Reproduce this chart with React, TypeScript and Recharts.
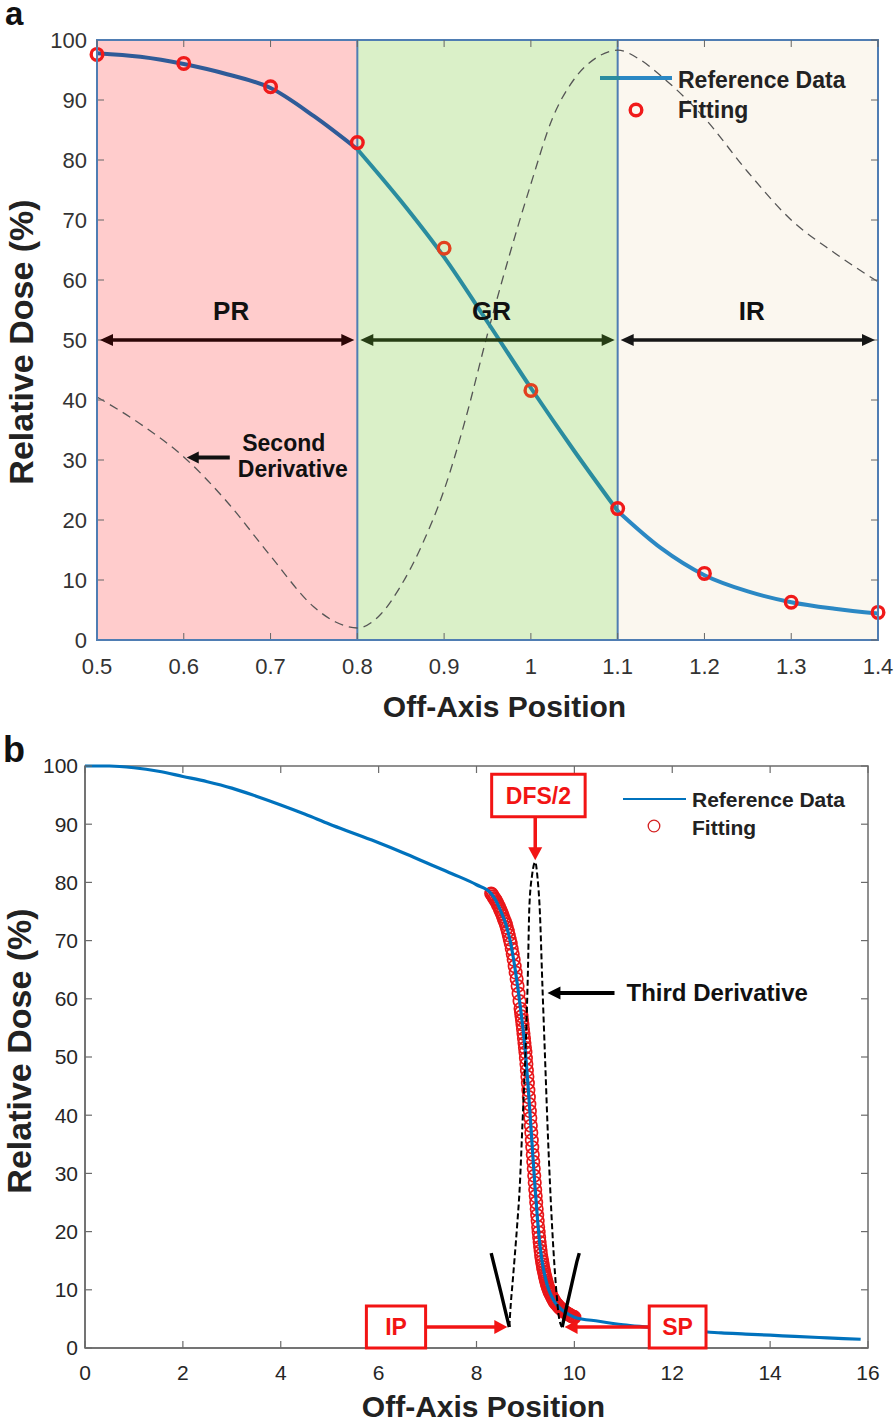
import React from 'react';
import {
  ComposedChart,
  Line,
  Scatter,
  XAxis,
  YAxis,
  ReferenceArea,
  ReferenceLine,
  Legend,
} from 'recharts';

const FONT = '"Liberation Sans", Arial, Helvetica, sans-serif';

// ---------------- Panel a data ----------------
const aXTicks = [0.5, 0.6, 0.7, 0.8, 0.9, 1.0, 1.1, 1.2, 1.3, 1.4];
const aYTicks = [0, 10, 20, 30, 40, 50, 60, 70, 80, 90, 100];
const aRegionEdges = [0.5, 0.8, 1.1, 1.4];
const aRegionNames = ['PR', 'GR', 'IR'];
const aRegionFills = ['#ffcccc', '#daf0c8', '#fbf7ef'];
const aRegionLineColors = ['#2f5b98', '#2a8c9f', '#2b88c4'];
const aRegionArrowColors = ['#2b0606', '#263d14', '#161616'];

const aRefX = [0.5, 0.55, 0.6, 0.65, 0.7, 0.75, 0.8, 0.85, 0.9, 0.95, 1.0, 1.05, 1.1, 1.15, 1.2, 1.25, 1.3, 1.35, 1.4];
const aRefY = [97.8, 97.2, 96.0, 94.3, 92.0, 87.3, 81.8, 73.2, 63.8, 53.0, 42.0, 31.5, 21.5, 15.3, 10.8, 8.1, 6.3, 5.2, 4.4];

const aFitX = [0.5, 0.6, 0.7, 0.8, 0.9, 1.0, 1.1, 1.2, 1.3, 1.4];
const aFitY = [97.6, 96.1, 92.2, 82.9, 65.3, 41.6, 21.9, 11.1, 6.3, 4.6];

const aSecondX = [0.5, 0.55, 0.6, 0.65, 0.7, 0.75, 0.775, 0.8, 0.825, 0.85, 0.875, 0.9, 0.925, 0.95, 0.975, 1.0, 1.025, 1.05, 1.075, 1.1, 1.125, 1.15, 1.2, 1.25, 1.3, 1.35, 1.4];
const aSecondY = [40.5, 36.0, 30.5, 23.0, 14.0, 5.5, 3.0, 2.0, 4.0, 9.0, 16.0, 25.0, 37.0, 51.0, 64.0, 76.0, 87.0, 93.5, 97.0, 98.3, 96.8, 94.0, 87.0, 78.0, 70.0, 64.5, 59.7];

// annotation anchors (data units)
const aArrowY = 50;
const aSecondArrow = [{ x: 0.653, y: 30.4 }, { x: 0.6034, y: 30.4 }];

// ---------------- Panel b data ----------------
const bXTicks = [0, 2, 4, 6, 8, 10, 12, 14, 16];
const bYTicks = [0, 10, 20, 30, 40, 50, 60, 70, 80, 90, 100];

const bRefX = [0, 0.5, 1, 1.5, 2, 2.5, 3, 3.5, 4, 4.5, 5, 5.5, 6, 6.5, 7, 7.5, 8, 8.3, 8.4, 8.5, 8.6, 8.7, 8.8, 8.9, 9.0, 9.05, 9.1, 9.15, 9.2, 9.25, 9.3, 9.35, 9.4, 9.45, 9.5, 9.6, 9.7, 9.8, 9.9, 10, 10.5, 11, 11.5, 12, 12.5, 13, 13.5, 14, 14.5, 15, 15.5, 15.85];
const bRefY = [100, 100, 99.7, 99.1, 98.2, 97.3, 96.2, 94.8, 93.3, 91.7, 90.0, 88.4, 86.8, 85.1, 83.3, 81.5, 79.6, 78.1, 76.8, 75.0, 72.8, 69.5, 64.5, 58.3, 50.8, 45.5, 39.5, 33.2, 27.2, 21.8, 17.4, 14.4, 12.3, 10.7, 9.5, 7.9, 6.9, 6.2, 5.7, 5.3, 4.6, 4.0, 3.6, 3.2, 2.9, 2.6, 2.4, 2.2, 2.0, 1.8, 1.6, 1.5];

const bFitX = [
  8.30, 8.32, 8.34, 8.36, 8.38, 8.40, 8.42, 8.44, 8.46, 8.48, 8.50, 8.52, 8.54, 8.56, 8.58, 8.60, 8.62, 8.64, 8.66, 8.68,
  8.70, 8.72, 8.74, 8.76, 8.78, 8.80, 8.82, 8.84, 8.86, 8.88,
  8.90, 8.91, 8.92, 8.93, 8.94, 8.95, 8.96, 8.97, 8.98, 8.99, 9.00, 9.01, 9.02, 9.03, 9.04, 9.05, 9.06, 9.07, 9.08, 9.09,
  9.10, 9.11, 9.12, 9.13, 9.14, 9.15, 9.16, 9.17, 9.18, 9.19, 9.20, 9.21, 9.22, 9.23, 9.24, 9.25, 9.26, 9.27, 9.28, 9.29,
  9.30, 9.31, 9.32, 9.33, 9.34, 9.35, 9.36, 9.37, 9.38, 9.39, 9.40, 9.41, 9.42, 9.43, 9.44, 9.45, 9.46, 9.47, 9.48, 9.49,
  9.50, 9.52, 9.54, 9.56, 9.58, 9.60, 9.62, 9.64, 9.66, 9.68, 9.70, 9.72, 9.74, 9.76, 9.78, 9.80, 9.82, 9.84, 9.86, 9.88,
  9.90, 9.92, 9.94, 9.96, 9.98, 10.00,
];
const bFitY = [
  78.1, 77.9, 77.6, 77.3, 77.1, 76.8, 76.5, 76.1, 75.8, 75.4, 75.0, 74.6, 74.2, 73.7, 73.3, 72.8, 72.2, 71.6, 70.9, 70.2,
  69.5, 68.6, 67.7, 66.7, 65.6, 64.5, 63.4, 62.2, 60.9, 59.6,
  58.3, 57.7, 57.0, 56.3, 55.6, 54.8, 54.0, 53.2, 52.4, 51.6, 50.8, 49.8, 48.8, 47.7, 46.6, 45.5, 44.3, 43.1, 41.9, 40.7,
  39.5, 38.2, 37.0, 35.7, 34.5, 33.2, 32.0, 30.8, 29.6, 28.4, 27.2, 26.1, 25.0, 23.9, 22.8, 21.8, 20.8, 19.9, 19.0, 18.2,
  17.4, 16.7, 16.0, 15.4, 14.9, 14.4, 13.9, 13.5, 13.1, 12.7, 12.3, 12.0, 11.6, 11.3, 11.0, 10.7, 10.5, 10.2, 10.0, 9.7,
  9.5, 9.2, 8.8, 8.5, 8.2, 7.9, 7.7, 7.5, 7.3, 7.1, 6.9, 6.8, 6.6, 6.5, 6.3, 6.2, 6.1, 6.0, 5.9, 5.8,
  5.7, 5.6, 5.5, 5.4, 5.35, 5.3,
];

const bThirdLeftX = [8.3, 8.4, 8.5, 8.6, 8.67];
const bThirdLeftY = [16.3, 12.9, 9.5, 6.0, 3.6];
const bThirdDashX = [8.67, 8.7, 8.74, 8.78, 8.83, 8.88, 8.94, 9.01, 9.05, 9.08, 9.14, 9.2, 9.25, 9.29, 9.35, 9.4, 9.45, 9.5, 9.56, 9.62, 9.69, 9.75];
const bThirdDashY = [3.6, 7.5, 11.5, 15.6, 21.0, 27.1, 38.7, 52.9, 64.4, 75.8, 81.5, 83.5, 80.5, 75.8, 61.5, 50.0, 38.5, 28.5, 18.6, 11.0, 5.0, 3.6];
const bThirdRightX = [9.75, 9.85, 9.95, 10.05, 10.1];
const bThirdRightY = [3.6, 7.4, 11.1, 14.8, 16.3];

// annotation anchors (data units)
const bBoxIP = { x1: 5.75, x2: 6.96, y1: 0, y2: 7.2 };
const bBoxSP = { x1: 11.53, x2: 12.69, y1: 0, y2: 7.2 };
const bBoxDFS = { x1: 8.31, x2: 10.22, y1: 91.3, y2: 98.6 };
const bArrowIP = [{ x: 6.96, y: 3.6 }, { x: 8.63, y: 3.6 }];
const bArrowSP = [{ x: 11.53, y: 3.6 }, { x: 9.8, y: 3.6 }];
const bArrowDFS = [{ x: 9.2, y: 91.3 }, { x: 9.2, y: 83.8 }];
const bArrowThird = [{ x: 10.82, y: 61 }, { x: 9.45, y: 61 }];

const pts = (xs: number[], ys: number[]) => xs.map((x, i) => ({ x, y: ys[i] }));

type Geo = { x1: number; y1: number; x2: number; y2: number };
type ArrowOpts = {
  color: string;
  width: number;
  head: number;
  half: number;
  both?: boolean;
  inset?: number;
  extra?: (g: Geo) => React.ReactNode;
};

const makeArrow = (o: ArrowOpts) => (p: any) => {
  const x1 = Number(p.x1), y1 = Number(p.y1), x2 = Number(p.x2), y2 = Number(p.y2);
  if (![x1, y1, x2, y2].every(Number.isFinite)) return <g />;
  const dx = x2 - x1, dy = y2 - y1;
  const len = Math.hypot(dx, dy) || 1;
  const ux = dx / len, uy = dy / len;
  const ins = o.inset ?? 0;
  const sx = x1 + ux * ins, sy = y1 + uy * ins, ex = x2 - ux * ins, ey = y2 - uy * ins;
  const tri = (tx: number, ty: number, ddx: number, ddy: number) => {
    const bx = tx - ddx * o.head, by = ty - ddy * o.head;
    const nx = -ddy, ny = ddx;
    return `${tx},${ty} ${bx + nx * o.half},${by + ny * o.half} ${bx - nx * o.half},${by - ny * o.half}`;
  };
  const ls = o.both ? o.head * 0.7 : 0;
  return (
    <g>
      <line
        x1={sx + ux * ls}
        y1={sy + uy * ls}
        x2={ex - ux * o.head * 0.7}
        y2={ey - uy * o.head * 0.7}
        stroke={o.color}
        strokeWidth={o.width}
      />
      <polygon points={tri(ex, ey, ux, uy)} fill={o.color} />
      {o.both && <polygon points={tri(sx, sy, -ux, -uy)} fill={o.color} />}
      {o.extra && o.extra({ x1, y1, x2, y2 })}
    </g>
  );
};

// inward tick marks for the top and right edges of the box
const topTick = (len: number, color: string, w: number) => (p: any) => {
  const x = Number(p.x1);
  const yTop = Math.min(Number(p.y1), Number(p.y2));
  if (!Number.isFinite(x) || !Number.isFinite(yTop)) return <g />;
  return <line x1={x} x2={x} y1={yTop} y2={yTop + len} stroke={color} strokeWidth={w} />;
};
const rightTick = (len: number, color: string, w: number) => (p: any) => {
  const y = Number(p.y1);
  const xR = Math.max(Number(p.x1), Number(p.x2));
  if (!Number.isFinite(y) || !Number.isFinite(xR)) return <g />;
  return <line x1={xR - len} x2={xR} y1={y} y2={y} stroke={color} strokeWidth={w} />;
};

// ---------------- Panel a ----------------
const A_AXIS = '#4f7db3';
const A_TICK = '#666';

const fitCircleA = (p: any) => {
  const x = p.payload?.x ?? 0;
  const inGR = x > 0.85 && x < 1.05;
  return <circle cx={p.cx} cy={p.cy} r={5.8} fill="none" stroke={inGR ? '#e2401f' : '#f01a1a'} strokeWidth={3.4} />;
};

const LegendA = () => (
  <svg width={290} height={72} style={{ overflow: 'visible', display: 'block' }}>
    <line x1={5} y1={18} x2={25} y2={18} stroke="#2a8c9f" strokeWidth={4} />
    <line x1={25} y1={18} x2={77} y2={18} stroke="#2b88c4" strokeWidth={4} />
    <text x={83} y={28} fontSize={23} fontWeight="bold" fontFamily={FONT} fill="#222">Reference Data</text>
    <circle cx={41} cy={50} r={5.8} fill="none" stroke="#f01a1a" strokeWidth={3.4} />
    <text x={83} y={58} fontSize={23} fontWeight="bold" fontFamily={FONT} fill="#222">Fitting</text>
  </svg>
);

function PanelA() {
  const ref = pts(aRefX, aRefY);
  const fit = pts(aFitX, aFitY);
  const sec = pts(aSecondX, aSecondY);
  const segs = aRegionNames.map((_, i) =>
    ref.filter((p) => p.x >= aRegionEdges[i] - 1e-9 && p.x <= aRegionEdges[i + 1] + 1e-9)
  );
  const fmt = (v: number) => {
    const s = Number(v).toFixed(1);
    return s === '1.0' ? '1' : s;
  };
  return (
    <ComposedChart width={896} height={730} margin={{ top: 40, right: 18, bottom: 0, left: 0 }}>
      <XAxis
        type="number"
        dataKey="x"
        domain={[0.5, 1.4]}
        ticks={aXTicks}
        interval={0}
        height={90}
        tickFormatter={fmt}
        tickSize={-7}
        tickMargin={25}
        fontSize={22}
        axisLine={{ stroke: A_AXIS, strokeWidth: 2 }}
        tickLine={{ stroke: A_TICK, strokeWidth: 1 }}
        tick={{ fill: '#333', fontSize: 22, fontFamily: FONT }}
        label={{
          content: (p: any) => {
            const vb = p.viewBox || { x: 97, y: 640, width: 781 };
            return (
              <text x={vb.x + vb.width / 2 + 17} y={vb.y + 77} textAnchor="middle" fontSize={30} fontWeight="bold" fontFamily={FONT} fill="#222">
                Off-Axis Position
              </text>
            );
          },
        }}
      />
      <YAxis
        type="number"
        dataKey="y"
        domain={[0, 100]}
        ticks={aYTicks}
        interval={0}
        width={97}
        tickSize={-7}
        tickMargin={17}
        fontSize={22}
        axisLine={{ stroke: A_AXIS, strokeWidth: 2 }}
        tickLine={{ stroke: A_TICK, strokeWidth: 1 }}
        tick={{ fill: '#333', fontSize: 22, fontFamily: FONT }}
        label={{
          content: (p: any) => {
            const vb = p.viewBox || { x: 0, y: 40 };
            const cx = vb.x + 33;
            const cy = vb.y + 302;
            return (
              <text x={cx} y={cy} transform={`rotate(-90, ${cx}, ${cy})`} textAnchor="middle" fontSize={34} fontWeight="bold" fontFamily={FONT} fill="#222">
                Relative Dose (%)
              </text>
            );
          },
        }}
      />

      {aRegionNames.map((name, i) => (
        <ReferenceArea
          key={'area' + name}
          x1={aRegionEdges[i]}
          x2={aRegionEdges[i + 1]}
          y1={0}
          y2={100}
          fill={aRegionFills[i]}
          fillOpacity={1}
          stroke="none"
          zIndex={-20}
        />
      ))}
      <ReferenceLine x={aRegionEdges[1]} stroke={A_AXIS} strokeWidth={2} zIndex={-10} />
      <ReferenceLine x={aRegionEdges[2]} stroke={A_AXIS} strokeWidth={2} zIndex={-10} />

      <Line
        data={sec}
        dataKey="y"
        type="monotone"
        stroke="#555"
        strokeWidth={1.3}
        strokeDasharray="9 6"
        dot={false}
        activeDot={false}
        isAnimationActive={false}
        legendType="none"
        zIndex={300}
      />

      {segs.map((d, i) => (
        <Line
          key={'ref' + i}
          data={d}
          dataKey="y"
          type="monotone"
          stroke={aRegionLineColors[i]}
          strokeWidth={4}
          dot={false}
          activeDot={false}
          isAnimationActive={false}
          name="Reference Data"
          zIndex={400}
        />
      ))}

      <Scatter data={fit} shape={fitCircleA} isAnimationActive={false} name="Fitting" zIndex={600} />

      <ReferenceArea x1={0.5} x2={1.4} y1={0} y2={100} fill="none" stroke={A_AXIS} strokeWidth={2} zIndex={650} />
      {aXTicks.map((t) => (
        <ReferenceLine key={'tt' + t} x={t} shape={topTick(7, A_TICK, 1)} zIndex={650} />
      ))}
      {aYTicks.map((t) => (
        <ReferenceLine key={'rt' + t} y={t} shape={rightTick(7, A_TICK, 1)} zIndex={650} />
      ))}

      {aRegionNames.map((name, i) => (
        <ReferenceLine
          key={'arrow' + name}
          segment={[
            { x: aRegionEdges[i], y: aArrowY },
            { x: aRegionEdges[i + 1], y: aArrowY },
          ]}
          zIndex={700}
          shape={makeArrow({
            color: aRegionArrowColors[i],
            width: 3.5,
            head: 13,
            half: 6,
            both: true,
            inset: 3,
            extra: (g) => (
              <text x={(g.x1 + g.x2) / 2 + 4} y={g.y1 - 20} textAnchor="middle" fontSize={26} fontWeight="bold" fontFamily={FONT} fill="#111">
                {name}
              </text>
            ),
          })}
        />
      ))}

      <ReferenceLine
        segment={aSecondArrow}
        zIndex={700}
        shape={makeArrow({
          color: '#111',
          width: 4,
          head: 12,
          half: 6,
          extra: (g) => (
            <g fontFamily={FONT} fontWeight="bold" fontSize={23} fill="#111" textAnchor="middle">
              <text x={g.x1 + 54} y={g.y1 - 6.7}>Second</text>
              <text x={g.x1 + 63} y={g.y1 + 19.3}>Derivative</text>
            </g>
          ),
        })}
      />

      <Legend
        content={() => <LegendA />}
        layout="horizontal"
        verticalAlign="middle"
        align="center"
        wrapperStyle={{ position: 'absolute', left: 595, top: 60, width: 290, height: 72 }}
      />
    </ComposedChart>
  );
}

// ---------------- Panel b ----------------
const B_AXIS = '#6b6b6b';
const RED = '#f21414';

const fitCircleB = (p: any) => (
  <circle cx={p.cx} cy={p.cy} r={6.2} fill="none" stroke="#e8161a" strokeWidth={1.7} />
);

const LegendB = () => (
  <svg width={280} height={60} style={{ overflow: 'visible', display: 'block' }}>
    <line x1={8} y1={14} x2={71} y2={14} stroke="#0072bd" strokeWidth={2} />
    <text x={77} y={22} fontSize={21} fontWeight="bold" fontFamily={FONT} fill="#222">Reference Data</text>
    <circle cx={39} cy={41} r={5.8} fill="none" stroke="#d42020" strokeWidth={1.3} />
    <text x={77} y={50} fontSize={21} fontWeight="bold" fontFamily={FONT} fill="#222">Fitting</text>
  </svg>
);

const boxLabel = (value: string) => ({
  value,
  position: 'center' as const,
  fill: RED,
  fontSize: 23,
  fontWeight: 'bold',
  fontFamily: FONT,
});

function PanelB() {
  const ref = pts(bRefX, bRefY);
  const fit = pts(bFitX, bFitY);
  const tL = pts(bThirdLeftX, bThirdLeftY);
  const tD = pts(bThirdDashX, bThirdDashY);
  const tR = pts(bThirdRightX, bThirdRightY);
  return (
    <ComposedChart width={896} height={693} margin={{ top: 36, right: 28, bottom: 0, left: 0 }}>
      <XAxis
        type="number"
        dataKey="x"
        domain={[0, 16]}
        ticks={bXTicks}
        interval={0}
        height={75}
        tickSize={-7}
        tickMargin={24}
        fontSize={21}
        axisLine={{ stroke: B_AXIS, strokeWidth: 1.5 }}
        tickLine={{ stroke: B_AXIS, strokeWidth: 1.2 }}
        tick={{ fill: '#262626', fontSize: 21, fontFamily: FONT }}
        label={{
          content: (p: any) => {
            const vb = p.viewBox || { x: 85, y: 618, width: 783 };
            return (
              <text x={vb.x + vb.width / 2 + 7} y={vb.y + 69} textAnchor="middle" fontSize={30} fontWeight="bold" fontFamily={FONT} fill="#222">
                Off-Axis Position
              </text>
            );
          },
        }}
      />
      <YAxis
        type="number"
        dataKey="y"
        domain={[0, 100]}
        ticks={bYTicks}
        interval={0}
        width={85}
        tickSize={-7}
        tickMargin={14}
        fontSize={21}
        axisLine={{ stroke: B_AXIS, strokeWidth: 1.5 }}
        tickLine={{ stroke: B_AXIS, strokeWidth: 1.2 }}
        tick={{ fill: '#262626', fontSize: 21, fontFamily: FONT }}
        label={{
          content: (p: any) => {
            const vb = p.viewBox || { x: 0, y: 36 };
            const cx = vb.x + 31;
            const cy = vb.y + 285;
            return (
              <text x={cx} y={cy} transform={`rotate(-90, ${cx}, ${cy})`} textAnchor="middle" fontSize={34} fontWeight="bold" fontFamily={FONT} fill="#222">
                Relative Dose (%)
              </text>
            );
          },
        }}
      />

      <ReferenceArea x1={0} x2={16} y1={0} y2={100} fill="none" stroke={B_AXIS} strokeWidth={1.5} zIndex={-10} />
      {bXTicks.map((t) => (
        <ReferenceLine key={'tt' + t} x={t} shape={topTick(7, B_AXIS, 1.2)} zIndex={-10} />
      ))}
      {bYTicks.map((t) => (
        <ReferenceLine key={'rt' + t} y={t} shape={rightTick(7, B_AXIS, 1.2)} zIndex={-10} />
      ))}

      <Scatter data={fit} shape={fitCircleB} isAnimationActive={false} name="Fitting" zIndex={350} />

      <Line
        data={ref}
        dataKey="y"
        type="monotone"
        stroke="#0072bd"
        strokeWidth={3.2}
        dot={false}
        activeDot={false}
        isAnimationActive={false}
        name="Reference Data"
        zIndex={400}
      />

      <Line data={tL} dataKey="y" type="linear" stroke="#000" strokeWidth={3.4} dot={false} activeDot={false} isAnimationActive={false} legendType="none" zIndex={450} />
      <Line data={tD} dataKey="y" type="monotone" stroke="#000" strokeWidth={2} strokeDasharray="6 3" dot={false} activeDot={false} isAnimationActive={false} legendType="none" zIndex={450} />
      <Line data={tR} dataKey="y" type="linear" stroke="#000" strokeWidth={3.4} dot={false} activeDot={false} isAnimationActive={false} legendType="none" zIndex={450} />

      <ReferenceArea {...bBoxIP} fill="#fff" fillOpacity={1} stroke={RED} strokeWidth={3} label={boxLabel('IP')} zIndex={700} />
      <ReferenceArea {...bBoxSP} fill="#fff" fillOpacity={1} stroke={RED} strokeWidth={3} label={boxLabel('SP')} zIndex={700} />
      <ReferenceArea {...bBoxDFS} fill="#fff" fillOpacity={1} stroke={RED} strokeWidth={3} label={boxLabel('DFS/2')} zIndex={700} />

      <ReferenceLine segment={bArrowIP} zIndex={750} shape={makeArrow({ color: RED, width: 3.5, head: 13, half: 7 })} />
      <ReferenceLine segment={bArrowSP} zIndex={750} shape={makeArrow({ color: RED, width: 3.5, head: 13, half: 7 })} />
      <ReferenceLine segment={bArrowDFS} zIndex={750} shape={makeArrow({ color: RED, width: 3.5, head: 13, half: 7 })} />
      <ReferenceLine
        segment={bArrowThird}
        zIndex={750}
        shape={makeArrow({
          color: '#000',
          width: 4,
          head: 13,
          half: 6.5,
          extra: (g) => (
            <text x={g.x1 + 12} y={g.y1 + 8.5} fontSize={24} fontWeight="bold" fontFamily={FONT} fill="#111">
              Third Derivative
            </text>
          ),
        })}
      />

      <Legend
        content={() => <LegendB />}
        layout="horizontal"
        verticalAlign="middle"
        align="center"
        wrapperStyle={{ position: 'absolute', left: 615, top: 55, width: 280, height: 60 }}
      />
    </ComposedChart>
  );
}

export default function App() {
  return (
    <div style={{ position: 'absolute', left: 0, top: 0, width: 896, height: 1423, background: '#fff', fontFamily: FONT }}>
      <div style={{ position: 'absolute', left: 0, top: 0 }}>
        <PanelA />
      </div>
      <div style={{ position: 'absolute', left: 0, top: 730 }}>
        <PanelB />
      </div>
      <svg width={896} height={1423} style={{ position: 'absolute', left: 0, top: 0, pointerEvents: 'none' }}>
        <text x={5} y={25} fontSize={33} fontWeight="bold" fontFamily={FONT} fill="#111">a</text>
        <text x={3} y={762} fontSize={36} fontWeight="bold" fontFamily={FONT} fill="#111">b</text>
      </svg>
    </div>
  );
}
